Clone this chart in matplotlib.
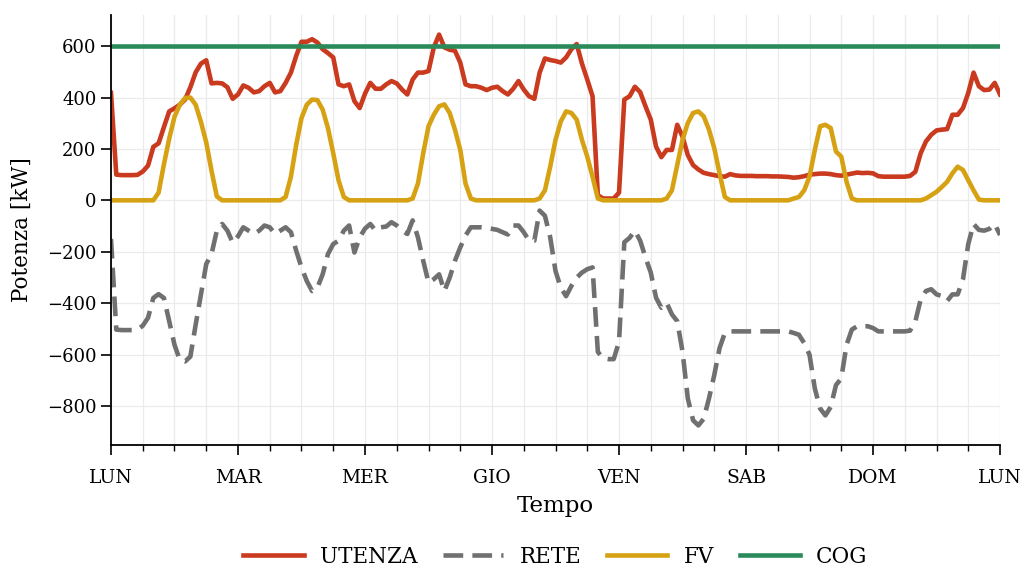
import numpy as np
import matplotlib
matplotlib.use('Agg')
import matplotlib.pyplot as plt
from matplotlib.ticker import MultipleLocator

# profilo settimanale orario (169 punti: LUN 00:00 -> LUN successivo 00:00)
giorni = ['LUN', 'MAR', 'MER', 'GIO', 'VEN', 'SAB', 'DOM', 'LUN']

utenza = [
    418, 100, 98, 98, 98, 99, 112, 135, 208, 222, 285, 346, 358, 372, 392, 440, 498, 532, 545, 455, 457, 455, 440, 395,
    412, 447, 438, 420, 425, 444, 457, 420, 425, 457, 497, 562, 617, 617, 627, 614, 588, 573, 556, 451, 444, 451, 386, 359,
    415, 457, 434, 434, 451, 464, 455, 431, 412, 470, 497, 497, 503, 595, 645, 595, 586, 582, 536, 451, 444, 444, 438, 429,
    438, 442, 425, 412, 434, 464, 431, 405, 395, 497, 552, 546, 542, 536, 556, 588, 608, 532, 470, 405, 20, 7, 7, 7,
    30, 392, 405, 442, 421, 366, 314, 209, 168, 196, 196, 294, 248, 176, 137, 120, 107, 102, 98, 94, 92, 102, 97, 95,
    95, 95, 94, 94, 94, 93, 93, 92, 91, 88, 90, 94, 100, 102, 104, 104, 102, 98, 96, 100, 104, 108, 106, 107,
    105, 94, 92, 92, 92, 92, 92, 95, 111, 183, 229, 255, 272, 275, 277, 333, 333, 359, 418, 497, 444, 429, 431, 457,
    412,
]

rete = [
    -150, -503, -505, -505, -505, -503, -488, -457, -380, -365, -380, -470, -562, -621, -627, -608, -484, -366, -248, -209, -118, -92, -118, -165,
    -140, -105, -118, -131, -118, -98, -105, -131, -118, -105, -124, -196, -261, -314, -353, -340, -288, -209, -170, -157, -118, -98, -203, -144,
    -110, -92, -118, -105, -102, -85, -98, -118, -131, -78, -144, -235, -320, -307, -288, -353, -301, -235, -183, -137, -105, -105, -105, -107,
    -111, -115, -124, -133, -98, -98, -124, -157, -157, -40, -60, -144, -275, -340, -373, -333, -301, -281, -268, -261, -590, -615, -618, -618,
    -550, -163, -146, -118, -157, -222, -281, -379, -418, -399, -444, -470, -588, -771, -856, -876, -850, -771, -680, -575, -516, -510, -510, -510,
    -510, -510, -510, -510, -510, -510, -510, -510, -510, -516, -523, -556, -601, -732, -810, -837, -804, -719, -693, -562, -503, -490, -490, -490,
    -497, -510, -510, -510, -510, -510, -510, -507, -471, -386, -353, -346, -366, -372, -392, -366, -366, -307, -170, -92, -115, -118, -111, -92,
    -135,
]

fv = [
    0, 0, 0, 0, 0, 0, 0, 0, 0, 30, 140, 240, 325, 372, 398, 400, 372, 305, 225, 115, 15, 0, 0, 0,
    0, 0, 0, 0, 0, 0, 0, 0, 0, 13, 92, 216, 320, 372, 392, 390, 353, 281, 183, 78, 13, 0, 0, 0,
    0, 0, 0, 0, 0, 0, 0, 0, 0, 7, 65, 183, 288, 333, 366, 373, 340, 275, 196, 65, 7, 0, 0, 0,
    0, 0, 0, 0, 0, 0, 0, 0, 0, 7, 39, 131, 235, 307, 346, 340, 314, 235, 170, 92, 7, 0, 0, 0,
    0, 0, 0, 0, 0, 0, 0, 0, 0, 7, 39, 137, 235, 301, 340, 346, 327, 275, 203, 105, 13, 0, 0, 0,
    0, 0, 0, 0, 0, 0, 0, 0, 0, 7, 13, 39, 92, 196, 288, 294, 281, 190, 170, 72, 7, 0, 0, 0,
    0, 0, 0, 0, 0, 0, 0, 0, 0, 0, 7, 20, 33, 52, 72, 105, 131, 118, 78, 39, 3, 0, 0, 0,
    0,
]

cog_kw = 600  # cogeneratore a potenza costante

ore = np.arange(len(utenza))
cog = np.full(len(ore), cog_kw)

plt.rcParams['font.family'] = 'DejaVu Serif'

fig = plt.figure(figsize=(10.22, 5.67), dpi=100)
ax = fig.add_axes([0.1086, 0.2152, 0.8699, 0.7583])

lw = 3.3
ax.plot(ore, utenza, color='#C93A1F', lw=lw, label='UTENZA')
ax.plot(ore, rete, color='#707070', lw=lw, dashes=(4.3, 2.0), label='RETE')
ax.plot(ore, fv, color='#D6A214', lw=lw, label='FV')
ax.plot(ore, cog, color='#2A8A5A', lw=lw, label='COG')

ax.set_xlim(0, len(ore) - 1)
ax.xaxis.set_major_locator(MultipleLocator(24))
ax.xaxis.set_minor_locator(MultipleLocator(6))
ax.set_xticks(np.arange(0, 169, 24))
ax.set_xticklabels(giorni)
ax.yaxis.set_major_locator(MultipleLocator(200))

ax.grid(True, which='both', axis='x', color='#ebebeb', lw=0.9)
ax.grid(True, which='major', axis='y', color='#ebebeb', lw=0.9)
ax.set_axisbelow(True)

for s in ['top', 'right']:
    ax.spines[s].set_visible(False)
for s in ['left', 'bottom']:
    ax.spines[s].set_linewidth(1.3)

ax.tick_params(axis='x', which='major', length=7, width=1.2, labelsize=13.5, pad=10)
ax.tick_params(axis='x', which='minor', length=4, width=1.0)
ax.tick_params(axis='y', which='major', length=7, width=1.2, labelsize=13)

ax.set_xlabel('Tempo', fontsize=16.5, labelpad=6)
ax.set_ylabel('Potenza [kW]', fontsize=15.5, labelpad=10)

fig.legend(loc='center', bbox_to_anchor=(0.5435, 0.018), ncol=4, frameon=False,
           fontsize=15.5, handlelength=2.8, handletextpad=0.75, columnspacing=1.2)

fig.savefig('out.png', dpi=100)
